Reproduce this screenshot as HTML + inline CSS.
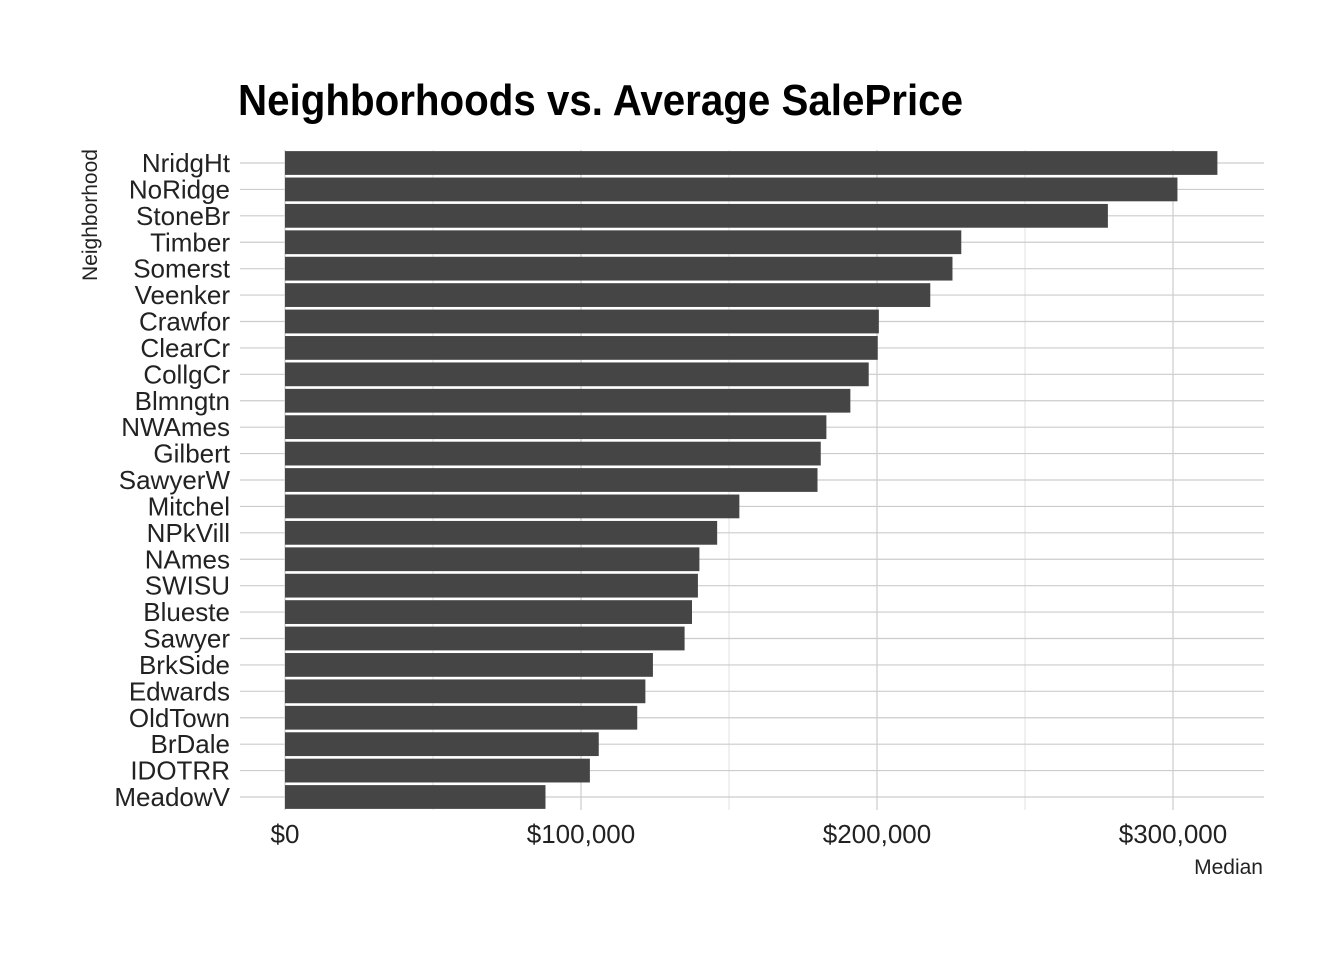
<!DOCTYPE html>
<html><head><meta charset="utf-8"><style>
html,body{margin:0;padding:0;background:#fff;}
svg text{font-family:"Liberation Sans Narrow","Liberation Sans",sans-serif;fill:#222;}
</style></head><body>
<svg id="chart" width="1344" height="960" xmlns="http://www.w3.org/2000/svg">
<text x="238" y="115" font-size="44" font-weight="bold" textLength="725" lengthAdjust="spacingAndGlyphs" style="fill:#000">Neighborhoods vs. Average SalePrice</text>
<g id="grid"></g><g id="bars"></g><g id="labels"></g>
<text x="1263" y="874" font-size="21" text-anchor="end">Median</text>
<text transform="translate(97,215) rotate(-90)" font-size="21" text-anchor="middle">Neighborhood</text>
</svg>
<script>
const categories=["NridgHt","NoRidge","StoneBr","Timber","Somerst","Veenker","Crawfor","ClearCr","CollgCr","Blmngtn","NWAmes","Gilbert","SawyerW","Mitchel","NPkVill","NAmes","SWISU","Blueste","Sawyer","BrkSide","Edwards","OldTown","BrDale","IDOTRR","MeadowV"];
const values=[315000,301500,278000,228475,225500,218000,200624,200250,197200,191000,182900,181000,179900,153500,146000,140000,139500,137500,135000,124300,121750,119000,106000,103000,88000];
const majorTicks=[0,100000,200000,300000];
const tickLabels=["$0","$100,000","$200,000","$300,000"];
const minorTicks=[50000,150000,250000];
const NS="http://www.w3.org/2000/svg";
const x0=285,x1=581,left=240,right=1264,yTop=163,yBot=797;
const xs=v=>x0+(x1-x0)*v/100000;
const step=(yBot-yTop)/(categories.length-1);
const ys=i=>yTop+i*step;
function mk(tag,attrs,parent){const e=document.createElementNS(NS,tag);for(const k in attrs)e.setAttribute(k,attrs[k]);document.getElementById(parent).appendChild(e);return e;}
minorTicks.forEach(t=>{const l=mk('line',{x1:xs(t),x2:xs(t),y1:150,y2:810,stroke:'#e0e0e0','stroke-width':1},'grid');

});
majorTicks.forEach((t,i)=>{const l=mk('line',{x1:xs(t),x2:xs(t),y1:150,y2:810,stroke:'#cccccc','stroke-width':1.2},'grid');


const tx=mk('text',{x:xs(t),y:843,'font-size':26,'text-anchor':'middle',fill:'#333'},'labels');tx.textContent=tickLabels[i];

});
categories.forEach((c,i)=>{const y=ys(i);
const l=mk('line',{x1:left,x2:right,y1:y,y2:y,stroke:'#cccccc','stroke-width':1.2},'grid');


const b=mk('rect',{x:xs(0),y:y-step*0.45,width:xs(values[i])-xs(0),height:step*0.9,fill:'#454545'},'bars');


const t=mk('text',{x:230,y:y+9,'font-size':26,'text-anchor':'end',fill:'#333'},'labels');t.textContent=c;

});
</script>
</body></html>
